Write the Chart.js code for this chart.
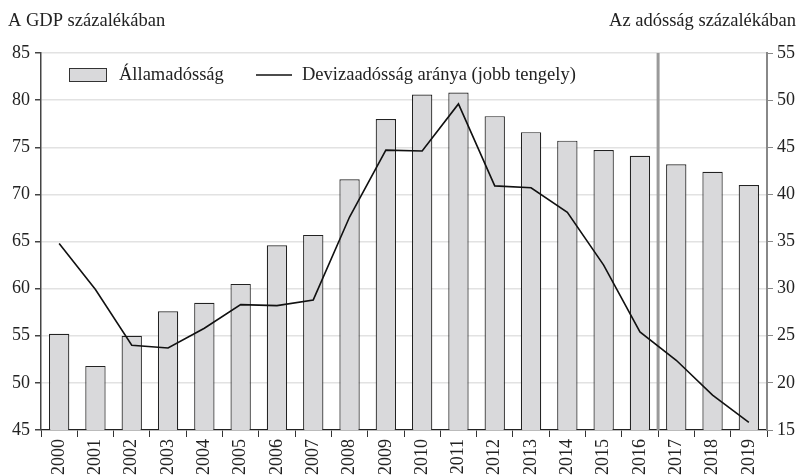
<!DOCTYPE html>
<html lang="hu">
<head>
  <meta charset="UTF-8">
  <title>Államadósság és devizaadósság aránya</title>
  <script src="https://cdn.jsdelivr.net/npm/chart.js"></script>
  <style>
    body { margin: 0; padding: 0; background: #fff; }
    .wrap { position: relative; width: 799px; height: 475px; }
  </style>
</head>
<body>
  <div class="wrap">
    <canvas id="adossagChart" width="799" height="475"></canvas>
  </div>

  <script>
    // Adatok
    const years = ['2000', '2001', '2002', '2003', '2004', '2005', '2006', '2007', '2008', '2009',
                   '2010', '2011', '2012', '2013', '2014', '2015', '2016', '2017', '2018', '2019'];
    const allamadossag = [55.2, 51.8, 55.0, 57.6, 58.5, 60.5, 64.6, 65.7, 71.6, 78.0,
                          80.6, 80.8, 78.3, 76.6, 75.7, 74.7, 74.1, 73.2, 72.4, 71.0];
    const devizaArany = [34.8, 29.9, 24.0, 23.7, 25.8, 28.3, 28.2, 28.8, 37.6, 44.7,
                         44.6, 49.6, 40.9, 40.7, 38.1, 32.5, 25.4, 22.4, 18.7, 15.8];
    const leftRange = [45, 85];
    const rightRange = [15, 55];
    const tickStep = 5;
    const splitAfter = '2016';   // függőleges elválasztó vonal 2016 után

    const FONT = '"Liberation Serif", "DejaVu Serif", serif';

    // Feliratok, jelmagyarázat és elválasztó vonal
    const decorPlugin = {
      id: 'decor',
      beforeDatasetsDraw(chart) {
        const { ctx, chartArea, scales } = chart;
        const i = years.indexOf(splitAfter);
        const x = (scales.x.getPixelForValue(i) + scales.x.getPixelForValue(i + 1)) / 2;
        ctx.save();
        ctx.strokeStyle = '#9a9a9a';
        ctx.lineWidth = 3;
        ctx.beginPath();
        ctx.moveTo(x, chartArea.top);
        ctx.lineTo(x, chartArea.bottom);
        ctx.stroke();
        ctx.restore();
      },
      afterDraw(chart) {
        const ctx = chart.ctx;
        ctx.save();
        ctx.font = '18.5px ' + FONT;
        ctx.fillStyle = '#222';
        ctx.textBaseline = 'alphabetic';
        ctx.textAlign = 'left';
        ctx.fillText('A GDP százalékában', 8, 26);
        ctx.textAlign = 'right';
        ctx.fillText('Az adósság százalékában', 796, 26);

        // jelmagyarázat
        ctx.textAlign = 'left';
        ctx.textBaseline = 'middle';
        ctx.fillStyle = '#d9d9db';
        ctx.fillRect(69, 68, 37, 13);
        ctx.strokeStyle = '#333';
        ctx.lineWidth = 1;
        ctx.strokeRect(69.5, 68.5, 37, 13);
        ctx.fillStyle = '#222';
        ctx.fillText('Államadósság', 119, 75);

        ctx.strokeStyle = '#111';
        ctx.lineWidth = 1.6;
        ctx.beginPath();
        ctx.moveTo(256, 75);
        ctx.lineTo(292, 75);
        ctx.stroke();
        ctx.fillText('Devizaadósság aránya (jobb tengely)', 302, 75);
        ctx.restore();
      }
    };

    const ctx = document.getElementById('adossagChart').getContext('2d');

    new Chart(ctx, {
      data: {
        labels: years,
        datasets: [
          {
            type: 'line',
            label: 'Devizaadósság aránya (jobb tengely)',
            data: devizaArany,
            yAxisID: 'y1',
            borderColor: '#111',
            borderWidth: 1.6,
            pointRadius: 0,
            tension: 0,
            order: 0
          },
          {
            type: 'bar',
            label: 'Államadósság',
            data: allamadossag,
            yAxisID: 'y',
            backgroundColor: '#d9d9db',
            borderColor: '#222',
            borderWidth: 1.2,
            barPercentage: 0.56,
            categoryPercentage: 1,
            order: 1
          }
        ]
      },
      options: {
        responsive: false,
        animation: false,
        layout: { padding: { top: 53, left: 0, right: 0, bottom: 0 } },
        plugins: {
          legend: { display: false },
          tooltip: { enabled: false }
        },
        scales: {
          x: {
            offset: true,
            grid: {
              offset: true,
              drawOnChartArea: false,
              tickLength: 7,
              tickColor: '#333'
            },
            border: { color: '#222', width: 1.2 },
            ticks: {
              minRotation: 90,
              maxRotation: 90,
              padding: 2,
              color: '#222',
              font: { family: FONT, size: 18 }
            },
            afterFit(scale) { scale.height = 45; }
          },
          y: {
            position: 'left',
            min: leftRange[0],
            max: leftRange[1],
            ticks: {
              stepSize: tickStep,
              padding: 5,
              color: '#222',
              font: { family: FONT, size: 18 }
            },
            grid: {
              color: '#e2e2e2',
              lineWidth: 1.5,
              tickLength: 6,
              tickColor: '#444'
            },
            border: { color: '#444', width: 1.5 },
            afterFit(scale) { scale.width = 41; }
          },
          y1: {
            position: 'right',
            min: rightRange[0],
            max: rightRange[1],
            ticks: {
              stepSize: tickStep,
              padding: 4,
              color: '#222',
              font: { family: FONT, size: 18 }
            },
            grid: {
              drawOnChartArea: false,
              tickLength: 6,
              tickColor: '#888'
            },
            border: { color: '#888', width: 2 },
            afterFit(scale) { scale.width = 32; }
          }
        }
      },
      plugins: [decorPlugin]
    });
  </script>
</body>
</html>
